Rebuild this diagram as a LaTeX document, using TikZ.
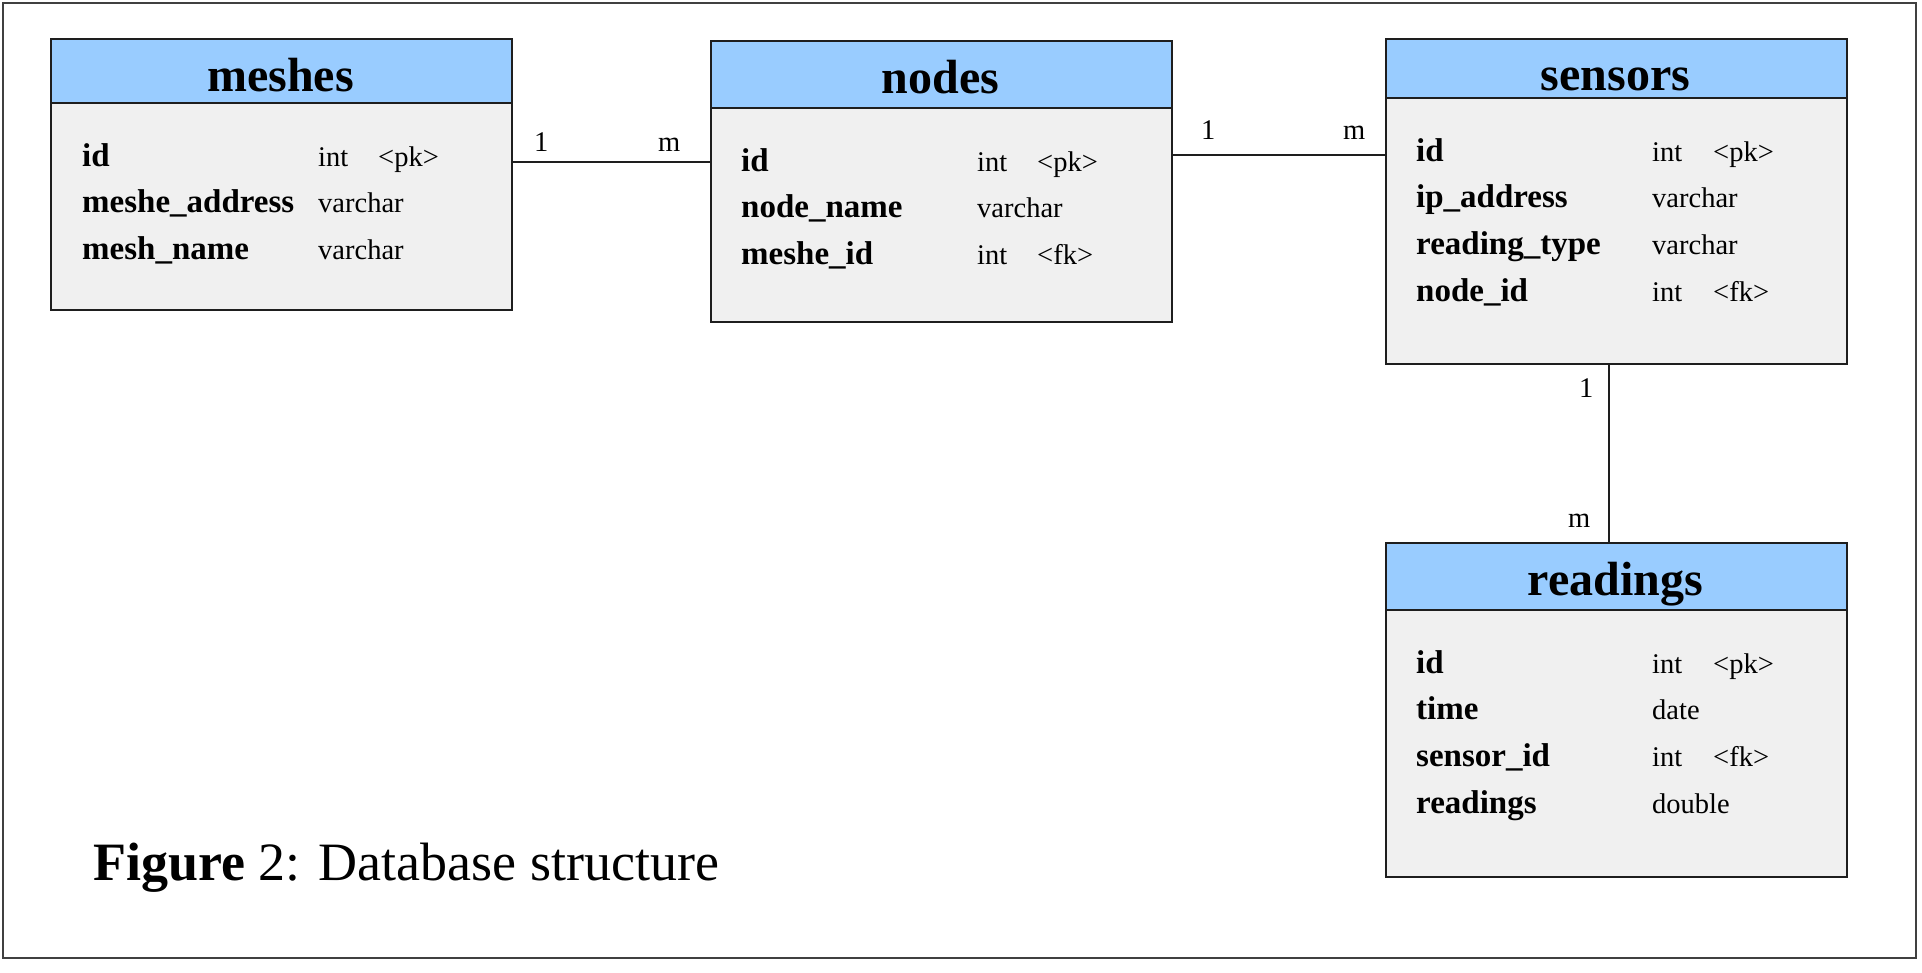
\documentclass[tikz,border=0pt]{standalone}
\usepackage{fontspec}
\setmainfont{Liberation Serif}
\definecolor{hdr}{HTML}{99CCFF}
\definecolor{bdy}{HTML}{F0F0F0}
\definecolor{edge}{HTML}{1E1E1E}
\tikzset{
  tbl/.style={draw=edge, fill=bdy, line width=1.6pt, inner sep=0pt, anchor=north west},
  hdrbox/.style={draw=edge, fill=hdr, line width=1.6pt, inner sep=0pt, anchor=north west},
  ttl/.style={font=\fontsize{48}{48}\selectfont\bfseries, anchor=base, inner sep=0pt},
  fname/.style={font=\fontsize{33}{33}\selectfont\bfseries, anchor=base west, inner sep=0pt},
  ftype/.style={font=\fontsize{28.5}{28.5}\selectfont, anchor=base west, inner sep=0pt},
  card/.style={font=\fontsize{28.5}{28.5}\selectfont, anchor=base west, inner sep=0pt},
  conn/.style={draw=edge, line width=1.6pt},
  frame/.style={draw=edge!85, line width=2pt},
}
\begin{document}
\begin{tikzpicture}[x=1pt, y=-1pt]
\useasboundingbox (0,0) rectangle (1922,973);
\draw[frame] (3,3) rectangle (1916,958);

% meshes
\node[tbl, minimum width=461pt, minimum height=271pt] (meshes) at (50,38) {};
\node[hdrbox, minimum width=461pt, minimum height=64pt] (meshesH) at (50,38) {};
\node[ttl] (meshesT) at (280.5,92) {meshes};
\node[fname] (m1n) at (82,167) {id};
\node[ftype] (m1t) at (318,167) {int};
\node[ftype] (m1k) at (378,167) {<pk>};
\node[fname] (m2n) at (82,213) {meshe\_address};
\node[ftype] (m2t) at (318,213) {varchar};
\node[fname] (m3n) at (82,260) {mesh\_name};
\node[ftype] (m3t) at (318,260) {varchar};

% nodes
\node[tbl, minimum width=461pt, minimum height=281pt] (nodes) at (710,40) {};
\node[hdrbox, minimum width=461pt, minimum height=67pt] (nodesH) at (710,40) {};
\node[ttl] (nodesT) at (940.5,94) {nodes};
\node[fname] (n1n) at (741,172) {id};
\node[ftype] (n1t) at (977,172) {int};
\node[ftype] (n1k) at (1037,172) {<pk>};
\node[fname] (n2n) at (741,218) {node\_name};
\node[ftype] (n2t) at (977,218) {varchar};
\node[fname] (n3n) at (741,265) {meshe\_id};
\node[ftype] (n3t) at (977,265) {int};
\node[ftype] (n3k) at (1037,265) {<fk>};

% sensors
\node[tbl, minimum width=461pt, minimum height=325pt] (sensors) at (1385,38) {};
\node[hdrbox, minimum width=461pt, minimum height=59pt] (sensorsH) at (1385,38) {};
\node[ttl] (sensorsT) at (1615.5,91) {sensors};
\node[fname] (s1n) at (1416,162) {id};
\node[ftype] (s1t) at (1652,162) {int};
\node[ftype] (s1k) at (1713,162) {<pk>};
\node[fname] (s2n) at (1416,208) {ip\_address};
\node[ftype] (s2t) at (1652,208) {varchar};
\node[fname] (s3n) at (1416,255) {reading\_type};
\node[ftype] (s3t) at (1652,255) {varchar};
\node[fname] (s4n) at (1416,302) {node\_id};
\node[ftype] (s4t) at (1652,302) {int};
\node[ftype] (s4k) at (1713,302) {<fk>};

% readings
\node[tbl, minimum width=461pt, minimum height=334pt] (readings) at (1385,542) {};
\node[hdrbox, minimum width=461pt, minimum height=67pt] (readingsH) at (1385,542) {};
\node[ttl] (readingsT) at (1615.5,595) {readings};
\node[fname] (r1n) at (1416,673) {id};
\node[ftype] (r1t) at (1652,673) {int};
\node[ftype] (r1k) at (1713,673) {<pk>};
\node[fname] (r2n) at (1416,719) {time};
\node[ftype] (r2t) at (1652,719) {date};
\node[fname] (r3n) at (1416,766) {sensor\_id};
\node[ftype] (r3t) at (1652,766) {int};
\node[ftype] (r3k) at (1713,766) {<fk>};
\node[fname] (r4n) at (1416,813) {readings};
\node[ftype] (r4t) at (1652,813) {double};

% connectors
\draw[conn] (meshes.east |- 0,162) -- (nodes.west |- 0,162);
\draw[conn] (nodes.east |- 0,155) -- (sensors.west |- 0,155);
\draw[conn] (sensors.south -| 1609,0) -- (readings.north -| 1609,0);

% cardinalities
\node[card] (c1) at (534,152) {1};
\node[card] (c2) at (658,152) {m};
\node[card] (c3) at (1201,140) {1};
\node[card] (c4) at (1343,140) {m};
\node[card] (c5) at (1579,397) {1};
\node[card] (c6) at (1568,527) {m};

% caption
\node[anchor=base west, inner sep=0pt, font=\fontsize{54}{54}\selectfont] (caption) at (93,880) {\textbf{Figure} 2: Database structure};
\end{tikzpicture}
\end{document}
